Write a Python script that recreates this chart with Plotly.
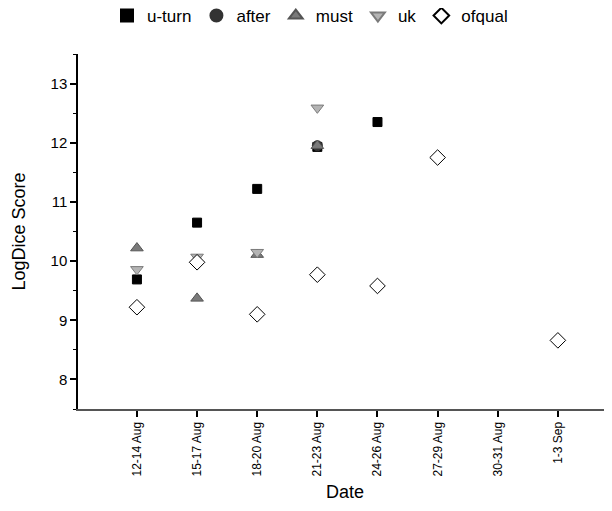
import plotly.graph_objects as go

dates = ["12-14 Aug", "15-17 Aug", "18-20 Aug", "21-23 Aug", "24-26 Aug",
         "27-29 Aug", "30-31 Aug", "1-3 Sep"]

uturn_x = ["12-14 Aug", "15-17 Aug", "18-20 Aug", "21-23 Aug", "24-26 Aug"]
uturn_y = [9.69, 10.65, 11.22, 11.93, 12.35]

after_x = ["21-23 Aug"]
after_y = [11.95]

must_x = ["12-14 Aug", "15-17 Aug", "18-20 Aug", "21-23 Aug"]
must_y = [10.22, 9.37, 10.11, 11.95]

uk_x = ["12-14 Aug", "15-17 Aug", "18-20 Aug", "21-23 Aug"]
uk_y = [9.86, 10.07, 10.15, 12.59]

ofqual_x = ["12-14 Aug", "15-17 Aug", "18-20 Aug", "21-23 Aug", "24-26 Aug",
            "27-29 Aug", "1-3 Sep"]
ofqual_y = [9.22, 9.98, 9.10, 9.77, 9.58, 11.75, 8.66]

fig = go.Figure()
fig.add_trace(go.Scatter(x=uturn_x, y=uturn_y, mode="markers", name="u-turn",
                         marker=dict(symbol="square", size=9, color="black",
                                     line=dict(color="black", width=1))))
fig.add_trace(go.Scatter(x=after_x, y=after_y, mode="markers", name="after",
                         marker=dict(symbol="circle", size=10, color="#333333",
                                     line=dict(color="#333333", width=1))))
fig.add_trace(go.Scatter(x=must_x, y=must_y, mode="markers", name="must",
                         marker=dict(symbol="triangle-up", size=11, color="#7a7a7a",
                                     line=dict(color="#555555", width=1))))
fig.add_trace(go.Scatter(x=uk_x, y=uk_y, mode="markers", name="uk",
                         marker=dict(symbol="triangle-down", size=11, color="#b4b4b4",
                                     line=dict(color="#7a7a7a", width=1))))
fig.add_trace(go.Scatter(x=ofqual_x, y=ofqual_y, mode="markers", name="ofqual",
                         marker=dict(symbol="diamond", size=12, color="white",
                                     line=dict(color="black", width=1))))

fig.update_layout(
    width=604, height=503,
    margin=dict(l=70, r=0, t=46, b=102, autoexpand=False),
    paper_bgcolor="white", plot_bgcolor="white",
    font=dict(family="Arial, Liberation Sans, sans-serif", color="black"),
    showlegend=True,
    legend=dict(orientation="h", x=0.5, xanchor="center", y=1.107, yanchor="middle",
                xref="container", font=dict(size=17),
                itemsizing="constant", bgcolor="rgba(0,0,0,0)"),
    xaxis=dict(type="category", categoryorder="array", categoryarray=dates,
               tickmode="array", tickvals=dates, ticktext=dates,
               range=[-0.98, 7.9], showgrid=False, zeroline=False, automargin=False,
               showline=True, linecolor="#555555", linewidth=2,
               ticks="outside", ticklen=6, tickwidth=1.5, tickcolor="black",
               tickangle=-90, tickfont=dict(size=12),
               title=dict(text="Date", font=dict(size=18), standoff=10)),
    yaxis=dict(range=[7.5, 13.5], dtick=1, tick0=8, showgrid=False, zeroline=False,
               automargin=False,
               showline=True, linecolor="black", linewidth=1.5,
               ticks="outside", ticklen=6, tickwidth=1.5, tickcolor="black",
               minor=dict(dtick=0.5, tick0=7.5, ticks="outside", ticklen=3,
                          tickwidth=1, tickcolor="black"),
               tickfont=dict(size=15),
               title=dict(text="LogDice Score", font=dict(size=18), standoff=20)),
)

fig.write_html("out.html")
